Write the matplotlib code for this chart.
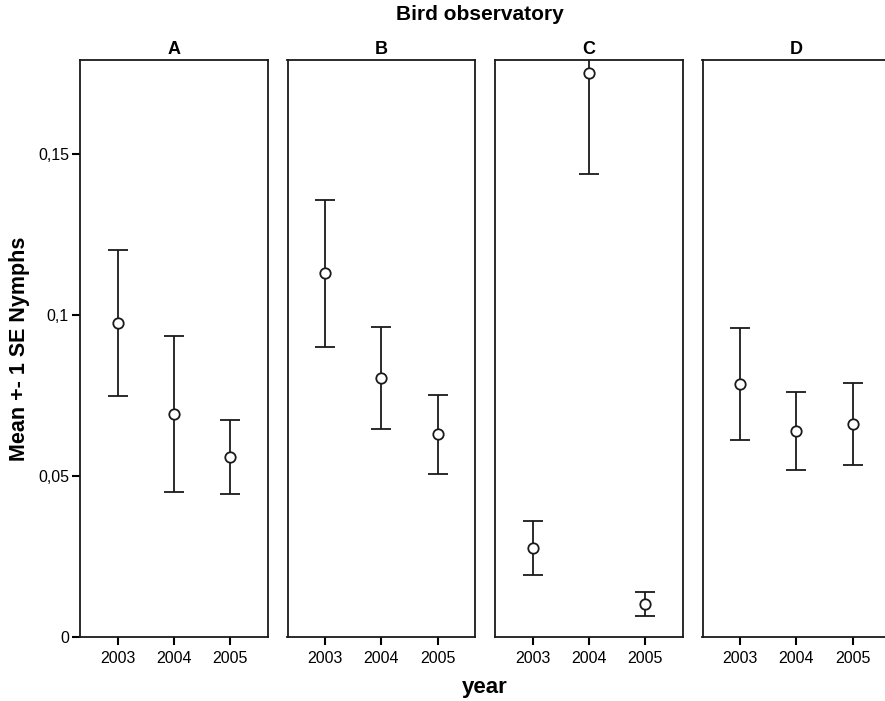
import numpy as np
import matplotlib.pyplot as plt

plt.rcParams['font.family'] = ['Liberation Sans', 'DejaVu Sans']

panels = ["A", "B", "C", "D"]
years = [2003, 2004, 2005]
means = {
    "A": [0.0975, 0.0693, 0.0559],
    "B": [0.1130, 0.0804, 0.0630],
    "C": [0.0276, 0.1752, 0.0102],
    "D": [0.0786, 0.0640, 0.0661],
}
se = {
    "A": [0.0226, 0.0243, 0.0115],
    "B": [0.0228, 0.0159, 0.0123],
    "C": [0.0084, 0.0314, 0.0038],
    "D": [0.0174, 0.0121, 0.0128],
}
ytick_vals = [0, 0.05, 0.1, 0.15]
ytick_labels = ["0", "0,05", "0,1", "0,15"]

fig = plt.figure(figsize=(8.85, 7.01), dpi=100)
W, H = 885, 701
lefts = [80, 287.5, 495, 702.5]
for k, p in enumerate(panels):
    ax = fig.add_axes([lefts[k] / W, 64 / H, 188 / W, 577 / H])
    ax.errorbar(years, means[p], yerr=se[p], fmt="o", mfc="white", mec="#1a1a1a",
                ms=7.5, mew=1.3, ecolor="#1a1a1a", elinewidth=1.3, capsize=7.5,
                capthick=1.4, color="#1a1a1a")
    ax.set_xlim(2002.33, 2005.67)
    ax.set_ylim(0, 0.1792)
    ax.set_xticks(years)
    ax.set_xticklabels([str(y) for y in years], fontsize=11.5)
    ax.tick_params(axis="x", length=6, width=1.5, pad=4)
    if k == 0:
        ax.set_yticks(ytick_vals)
        ax.set_yticklabels(ytick_labels, fontsize=11.5)
        ax.tick_params(axis="y", length=6, width=1.5, pad=2)
        ax.set_ylabel("Mean +- 1 SE Nymphs", fontsize=15.5, fontweight="bold", labelpad=6)
    else:
        ax.set_yticks([])
    for s in ax.spines.values():
        s.set_linewidth(1.3)
        s.set_color("#1a1a1a")
    ax.set_title(p, fontsize=13, fontweight="bold", pad=4)

fig.text(480 / W, 1 - 14 / H, "Bird observatory", ha="center", va="center",
         fontsize=15, fontweight="bold")
fig.text(485 / W, 1 - 688 / H, "year", ha="center", va="center",
         fontsize=16, fontweight="bold")

fig.savefig("out.png", dpi=100)
